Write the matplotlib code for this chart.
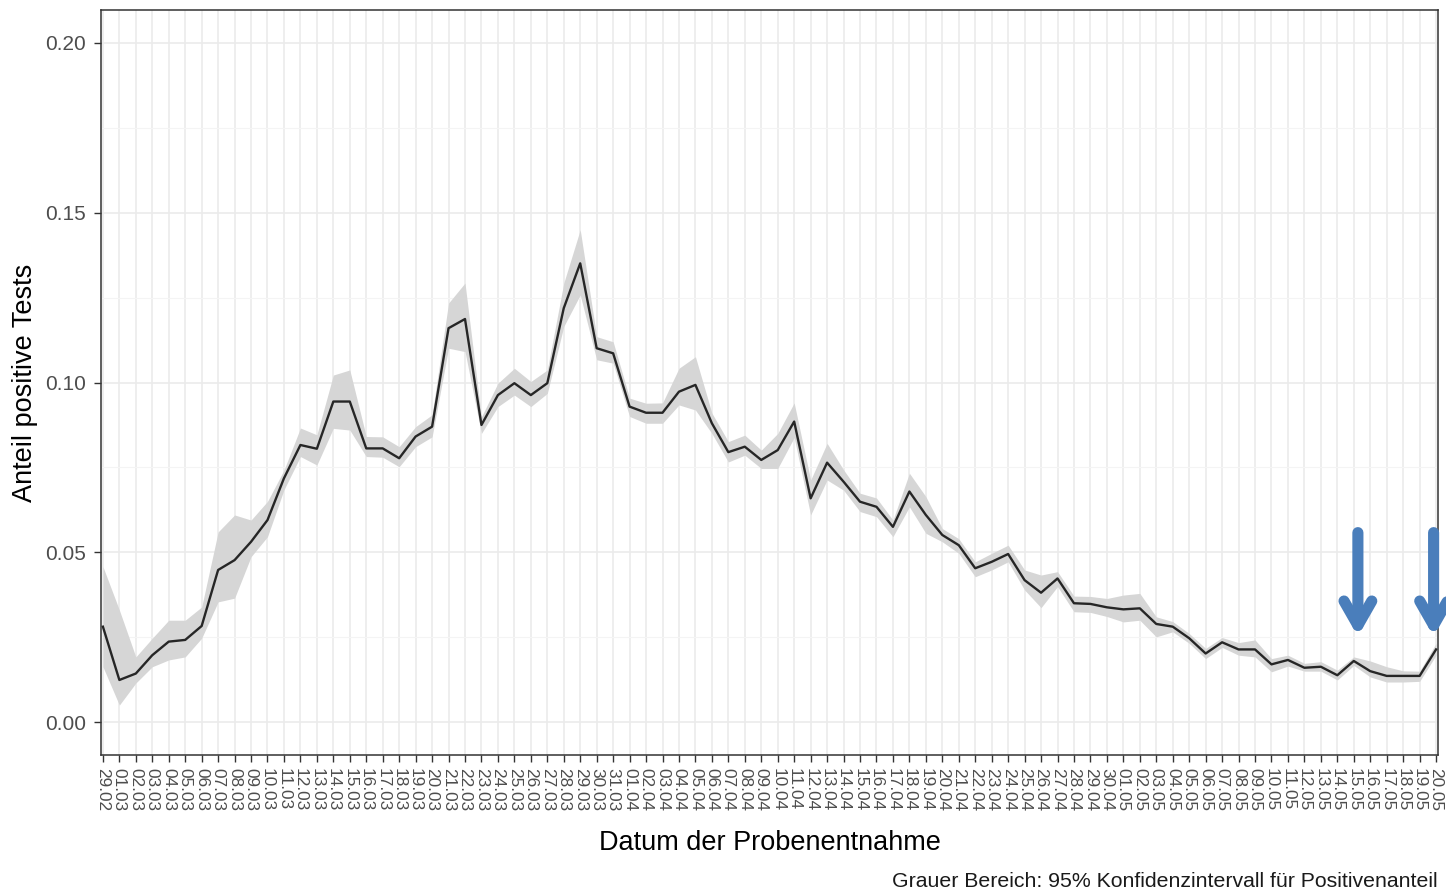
import matplotlib
matplotlib.use("Agg")
import matplotlib.pyplot as plt
import numpy as np
import pandas as pd

plt.rcParams['font.family'] = ['Liberation Sans', 'DejaVu Sans']

dates = [d.strftime('%d.%m') for d in pd.date_range('2020-02-29', '2020-05-20', freq='D')]

anteil = [0.0281, 0.0124, 0.0143, 0.0197, 0.0237, 0.0242, 0.0283, 0.0448, 0.0477, 0.0531,
          0.0595, 0.0718, 0.0816, 0.0805, 0.0944, 0.0944, 0.0806, 0.0806, 0.0777, 0.0841,
          0.0870, 0.1160, 0.1187, 0.0875, 0.0963, 0.0998, 0.0963, 0.0998, 0.1219, 0.1351,
          0.1101, 0.1086, 0.0929, 0.0911, 0.0911, 0.0973, 0.0993, 0.0880, 0.0795, 0.0811,
          0.0772, 0.0801, 0.0885, 0.0659, 0.0764, 0.0708, 0.0649, 0.0634, 0.0575, 0.0679,
          0.0610, 0.0551, 0.0521, 0.0453, 0.0472, 0.0495, 0.0418, 0.0381, 0.0423, 0.0350,
          0.0348, 0.0338, 0.0332, 0.0335, 0.0289, 0.0281, 0.0247, 0.0202, 0.0235, 0.0214,
          0.0214, 0.0170, 0.0183, 0.0160, 0.0163, 0.0138, 0.0180, 0.0150, 0.0136, 0.0136,
          0.0136, 0.0214]

ki_unten = [0.0163, 0.0050, 0.0115, 0.0163, 0.0183, 0.0192, 0.0247, 0.0354, 0.0365, 0.0487,
            0.0546, 0.0684, 0.0782, 0.0757, 0.0865, 0.0860, 0.0782, 0.0780, 0.0752, 0.0811,
            0.0840, 0.1101, 0.1091, 0.0850, 0.0929, 0.0963, 0.0929, 0.0968, 0.1165, 0.1258,
            0.1067, 0.1057, 0.0900, 0.0880, 0.0880, 0.0934, 0.0919, 0.0850, 0.0766, 0.0786,
            0.0747, 0.0747, 0.0838, 0.0610, 0.0713, 0.0683, 0.0620, 0.0605, 0.0546, 0.0634,
            0.0556, 0.0531, 0.0497, 0.0428, 0.0448, 0.0472, 0.0389, 0.0337, 0.0399, 0.0325,
            0.0323, 0.0311, 0.0295, 0.0300, 0.0251, 0.0266, 0.0232, 0.0187, 0.0220, 0.0197,
            0.0192, 0.0148, 0.0165, 0.0150, 0.0150, 0.0124, 0.0167, 0.0133, 0.0118, 0.0118,
            0.0120, 0.0197]

ki_oben = [0.0458, 0.0330, 0.0192, 0.0247, 0.0300, 0.0300, 0.0339, 0.0560, 0.0610, 0.0595,
           0.0650, 0.0742, 0.0866, 0.0846, 0.1022, 0.1037, 0.0841, 0.0840, 0.0811, 0.0870,
           0.0905, 0.1234, 0.1293, 0.0899, 0.0998, 0.1042, 0.1003, 0.1037, 0.1293, 0.1450,
           0.1135, 0.1120, 0.0954, 0.0939, 0.0940, 0.1042, 0.1076, 0.0910, 0.0826, 0.0845,
           0.0801, 0.0850, 0.0940, 0.0713, 0.0821, 0.0743, 0.0674, 0.0660, 0.0595, 0.0733,
           0.0664, 0.0570, 0.0540, 0.0472, 0.0497, 0.0521, 0.0448, 0.0433, 0.0443, 0.0371,
           0.0370, 0.0364, 0.0374, 0.0379, 0.0310, 0.0296, 0.0261, 0.0217, 0.0249, 0.0234,
           0.0242, 0.0187, 0.0197, 0.0173, 0.0178, 0.0153, 0.0192, 0.0180, 0.0163, 0.0151,
           0.0150, 0.0232]

y_ticks = [0.00, 0.05, 0.10, 0.15, 0.20]
y_tick_labels = ['0.00', '0.05', '0.10', '0.15', '0.20']
pfeil_pos = [76.25, 80.85]   # arrow positions (date index)

fig = plt.figure(figsize=(14.46, 8.93), dpi=100)
ax = fig.add_axes([0.0698, 0.1545, 0.9247, 0.8343])

x = np.arange(len(dates))
ax.fill_between(x, ki_unten, ki_oben, color='#d6d6d6', lw=0, zorder=2)
ax.plot(x, anteil, color='#262626', lw=1.7, zorder=3)

ax.set_xlim(-0.12, len(dates) - 1 + 0.12)
ax.set_ylim(-0.0097, 0.2097)

ax.set_xticks(x)
ax.set_xticklabels(dates, rotation=-90, ha='center', va='top', fontsize=12.4, color='#4d4d4d')
ax.set_yticks(y_ticks)
ax.set_yticklabels(y_tick_labels, fontsize=15, color='#4d4d4d')
ax.set_yticks([0.025, 0.075, 0.125, 0.175], minor=True)
ax.tick_params(axis='y', which='minor', length=0)
ax.tick_params(axis='both', which='major', length=5, width=1, color='#333333')
ax.tick_params(axis='y', which='major', pad=6)
ax.tick_params(axis='x', which='major', pad=4)

ax.grid(True, which='major', color='#ebebeb', lw=1.2, zorder=0)
ax.grid(True, which='minor', axis='y', color='#f4f4f4', lw=0.8, zorder=0)
ax.set_axisbelow(True)
for s in ax.spines.values():
    s.set_color('#333333')
    s.set_linewidth(1.1)

ax.set_ylabel('Anteil positive Tests', fontsize=19.5)
ax.yaxis.set_label_coords(-0.0568, 0.5)
ax.yaxis.label.set_va('center')
ax.set_xlabel('Datum der Probenentnahme', fontsize=19.5)
ax.xaxis.set_label_coords(0.5, -0.118)
ax.xaxis.label.set_va('center')

fig.text(0.9945, 0.0025, 'Grauer Bereich: 95% Konfidenzintervall für Positivenanteil',
         ha='right', va='bottom', fontsize=15.3, color='#1a1a1a')

for xp in pfeil_pos:
    ax.annotate('', xy=(xp, 0.0252), xytext=(xp, 0.0558),
                arrowprops=dict(arrowstyle='->, head_length=1.75, head_width=1.0',
                                lw=8, color='#4a7ebb', shrinkA=0, shrinkB=0),
                zorder=5, annotation_clip=False)

fig.savefig('out.png', dpi=100)
